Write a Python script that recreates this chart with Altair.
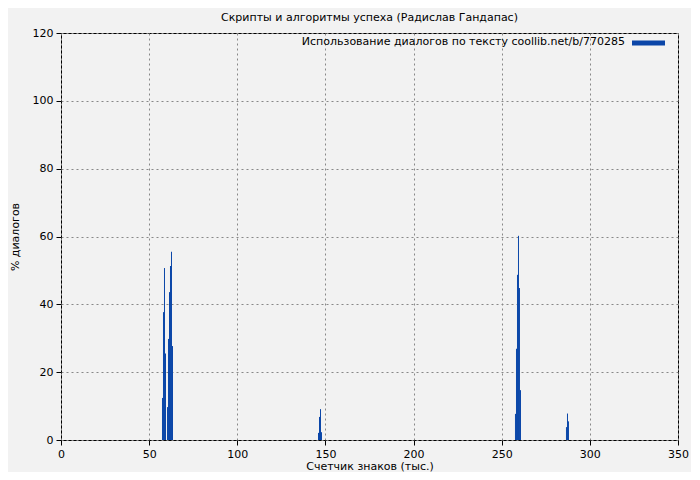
import altair as alt
import pandas as pd

# Character counter (thousands) and % dialogues
positions = [57.57, 58.14, 58.71, 59.28, 60.41, 60.98, 61.55, 62.11, 62.68, 63.25,
             146.07, 146.64, 147.21, 147.77,
             257.81, 258.38, 258.95, 259.52, 260.08, 260.65,
             286.74, 287.31, 287.87]
values = [12.4, 37.7, 50.7, 25.5, 9.7, 29.8, 43.6, 51.3, 55.5, 27.7,
          2.1, 6.8, 9.1, 2.3,
          7.7, 26.9, 48.7, 60.2, 44.8, 14.7,
          3.8, 7.8, 5.5]
x_ticks = [0, 50, 100, 150, 200, 250, 300, 350]
y_ticks = [0, 20, 40, 60, 80, 100, 120]

title_text = "Скрипты и алгоритмы успеха (Радислав Гандапас)"
legend_text = "Использование диалогов по тексту coollib.net/b/770285"

df = pd.DataFrame({"x": positions, "y": values, "y0": [0] * len(values)})

W, H = 617, 407
color = "#0b46a8"
font = "DejaVu Sans"

bars = alt.Chart(df).mark_rule(strokeWidth=1, color=color).encode(
    x=alt.X("x:Q", scale=alt.Scale(domain=[0, 350], nice=False, padding=0),
            axis=alt.Axis(values=x_ticks, title="Счетчик знаков (тыс.)",
                          grid=True, gridDash=[2, 3], gridColor="#888888",
                          domain=False, tickColor="black", labelColor="black",
                          labelFont=font, labelFontSize=11, titleFont=font,
                          titleFontSize=11, titleFontWeight="normal",
                          titleColor="black", tickSize=5, labelPadding=3,
                          labelFlush=False, titlePadding=1)),
    y=alt.Y("y:Q", scale=alt.Scale(domain=[0, 120], nice=False, padding=0),
            axis=alt.Axis(values=y_ticks, title="% диалогов",
                          grid=True, gridDash=[2, 3], gridColor="#888888",
                          domain=False, tickColor="black", labelColor="black",
                          labelFont=font, labelFontSize=11, titleFont=font,
                          titleFontSize=11, titleFontWeight="normal",
                          titleColor="black", tickSize=5, labelPadding=3,
                          labelFlush=False, titlePadding=12)),
    y2="y0:Q",
)

legend_label = alt.Chart(pd.DataFrame({"t": [legend_text]})).mark_text(
    align="right", baseline="middle", font=font, fontSize=11, color="black"
).encode(x=alt.value(564), y=alt.value(9), text="t:N")

legend_line = alt.Chart(pd.DataFrame({"t": [legend_text]})).mark_rule(
    color=color, strokeWidth=5
).encode(x=alt.value(571), x2=alt.value(604), y=alt.value(10))

chart = alt.layer(bars, legend_label, legend_line).properties(
    width=W, height=H,
    title=alt.TitleParams(title_text, font=font, fontSize=11,
                          fontWeight="normal", color="black", anchor="middle",
                          offset=4),
    background="#f2f2f2",
    autosize=alt.AutoSizeParams(type="none"),
    padding={"left": 53, "top": 25, "right": 13, "bottom": 32},
).configure_view(stroke="black", strokeWidth=1, fill="#f2f2f2")

chart.save("out.html", embed_options={"renderer": "svg", "actions": False})
